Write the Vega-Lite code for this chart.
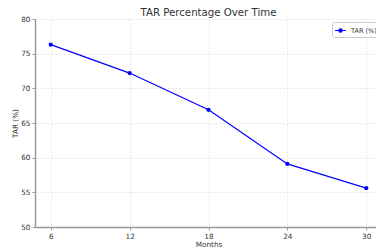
{
  "$schema": "https://vega.github.io/schema/vega-lite/v6.json",
  "autosize": "none",
  "width": 347,
  "height": 208,
  "padding": {"left": 35, "top": 19, "right": 0, "bottom": 21},
  "background": "white",
  "title": {"text": "TAR Percentage Over Time", "fontSize": 10.2, "fontWeight": "normal", "color": "#333333", "font": "DejaVu Sans", "offset": 4, "dy": 7},
  "config": {
    "view": {"stroke": null},
    "font": "DejaVu Sans"
  },
  "data": {"values": [
    {"month": 6, "tar": 76.3, "series": "TAR (%)"},
    {"month": 12, "tar": 72.2, "series": "TAR (%)"},
    {"month": 18, "tar": 66.9, "series": "TAR (%)"},
    {"month": 24, "tar": 59.1, "series": "TAR (%)"},
    {"month": 30, "tar": 55.6, "series": "TAR (%)"}
  ]},
  "mark": {"type": "line", "strokeWidth": 1.2, "point": {"filled": true, "size": 18}},
  "encoding": {
    "x": {"field": "month", "type": "quantitative",
      "scale": {"domain": [4.8, 31.2], "nice": false, "zero": false},
      "axis": {"values": [6, 12, 18, 24, 30], "title": "Months", "titleFontSize": 7.3, "titleFontWeight": "normal", "titleColor": "#333333", "titlePadding": 1,
        "labelFontSize": 7.3, "labelColor": "#333333", "labelPadding": 2, "tickSize": 3, "tickColor": "#999999",
        "domainColor": "#999999", "domainWidth": 1.5, "gridColor": "#dddddd", "gridDash": [2, 2], "gridWidth": 0.8}},
    "y": {"field": "tar", "type": "quantitative",
      "scale": {"domain": [50, 80], "nice": false, "zero": false},
      "axis": {"values": [50, 55, 60, 65, 70, 75, 80], "title": "TAR (%)", "titleFontSize": 7.3, "titleFontWeight": "normal", "titleColor": "#333333", "titlePadding": 1,
        "labelFontSize": 7.3, "labelColor": "#333333", "labelPadding": 2, "tickSize": 3, "tickColor": "#999999",
        "domainColor": "#999999", "domainWidth": 1.5, "gridColor": "#dddddd", "gridDash": [2, 2], "gridWidth": 0.8}},
    "color": {"field": "series", "type": "nominal", "scale": {"range": ["#0000ff"]},
      "legend": {"title": null, "orient": "none", "legendX": 297, "legendY": 3,
        "symbolType": "M-1,0L1,0M-0.3,0A0.3,0.3 0 1,0 0.3,0A0.3,0.3 0 1,0 -0.3,0Z",
        "symbolSize": 120, "symbolStrokeWidth": 1.2, "symbolFillColor": "#0000ff", "symbolStrokeColor": "#0000ff",
        "labelFontSize": 6.5, "labelColor": "#333333", "labelOffset": 4,
        "strokeColor": "#cccccc", "fillColor": "white", "cornerRadius": 2, "padding": 2}}
  }
}
